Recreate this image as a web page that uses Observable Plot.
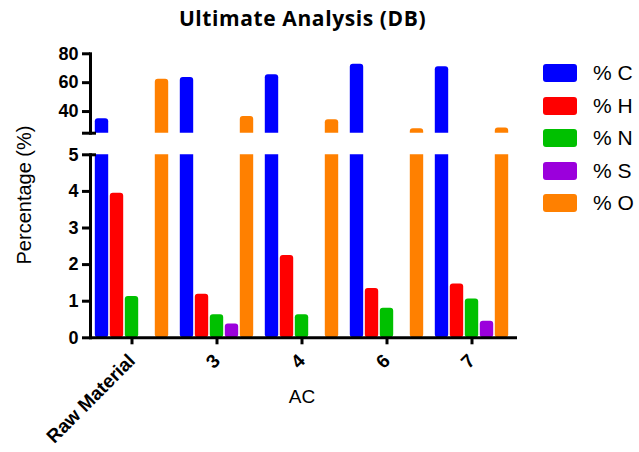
<!DOCTYPE html>
<html>
<head>
<meta charset="utf-8">
<script src="https://cdn.jsdelivr.net/npm/d3@7"></script>
<script src="https://cdn.jsdelivr.net/npm/@observablehq/plot@0.6"></script>
<style>
  body { margin: 0; background: #fff; }
  #chart { position: relative; width: 639px; height: 452px; overflow: hidden; font-family: "Liberation Sans", Arial, sans-serif; color: #000; }
  #chart svg { position: absolute; left: 0; top: 0; background: transparent; overflow: visible; }
  .title { position: absolute; left: 0; width: 605px; top: 4px; text-align: center; font: bold 21px "Open Sans", sans-serif; letter-spacing: 0.6px; }
  .ylabel { position: absolute; left: 24px; top: 195px; transform: translate(-50%, -50%) rotate(-90deg); white-space: nowrap; font-size: 20px; }
  .xlabel { position: absolute; left: 0; width: 604px; top: 386px; text-align: center; font-size: 19px; }
  .legend { position: absolute; left: 543px; top: 0; }
  .legend .item { position: absolute; left: 0; height: 18px; white-space: nowrap; }
  .legend .sw { position: absolute; left: 0; top: 0; width: 34px; height: 18px; border-radius: 3px; }
  .legend .lab { position: absolute; left: 50px; top: -4px; font-size: 21px; line-height: 26px; }
</style>
</head>
<body>
<div id="chart">
  <div class="title">Ultimate Analysis (DB)</div>
  <div class="ylabel">Percentage (%)</div>
  <div class="xlabel">AC</div>
  <div class="legend" id="legend"></div>
</div>
<script>
// Samples along the x axis and the measured elements (dry basis, %)
const samples = ["Raw Material", "3", "4", "6", "7"];
const elements = ["% C", "% H", "% N", "% S", "% O"];
const colors = ["#0000ff", "#ff0000", "#00c000", "#9b00dc", "#ff8000"];

const carbon   = [35.0, 63.5, 65.5, 72.8, 71.0];
const hydrogen = [3.95, 1.19, 2.25, 1.35, 1.47];
const nitrogen = [1.13, 0.63, 0.63, 0.81, 1.06];
const sulfur   = [0.00, 0.38, 0.00, 0.00, 0.45];
const oxygen   = [62.4, 36.6, 34.4, 28.0, 28.6];

const upperTicks = [40, 60, 80];
const lowerTicks = [0, 1, 2, 3, 4, 5];
const upperDomain = [25, 80];
const lowerDomain = [0, 5];

const series = [carbon, hydrogen, nitrogen, sulfur, oxygen];
const rows = samples.flatMap((sample, i) =>
  elements.map((element, j) => ({sample, element, value: series[j][i]}))
);

// Layout of the grouped bars inside each sample band
const W = 639;
const xRange = [89, 514];
const band = (xRange[1] - xRange[0]) / samples.length;
const barStep = 15;
const barWidth = 13.4;
const inset = (band - barWidth) / 2;
const axisStroke = 3;
const font = "'Liberation Sans', Arial, sans-serif";

function bars() {
  return elements.map((element, j) =>
    Plot.barY(rows.filter((d) => d.element === element), {
      x: "sample",
      y: "value",
      fill: colors[j],
      dx: (j - (elements.length - 1) / 2) * barStep,
      insetLeft: inset,
      insetRight: inset,
      r: 3,
      clip: true
    })
  );
}

const tickText = {fontSize: 18, fontWeight: "bold", fontFamily: font};

// Upper segment of the broken y axis (25–80)
const upper = Plot.plot({
  width: W,
  height: 140,
  marginTop: 53.3,
  marginBottom: 7.3,
  marginLeft: 90,
  marginRight: W - 517,
  style: {fontFamily: font, background: "transparent"},
  x: {domain: samples, range: xRange, padding: 0, axis: null},
  y: {domain: upperDomain, axis: null},
  marks: [
    ...bars(),
    Plot.frame({anchor: "left", strokeWidth: axisStroke}),
    Plot.axisY({ticks: upperTicks, tickSize: 8, tickPadding: 4, strokeWidth: axisStroke, tickFormat: "d", label: null, ...tickText}),
    Plot.axisY({ticks: [upperDomain[0]], tickSize: 8, strokeWidth: axisStroke, tickFormat: () => "", label: null}),
    Plot.axisY({ticks: [upperDomain[0]], tickSize: -6, strokeWidth: axisStroke, tickFormat: () => "", label: null})
  ]
});

// Lower segment of the broken y axis (0–5) with the sample axis
const lower = Plot.plot({
  width: W,
  height: 452,
  marginTop: 154.3,
  marginBottom: 452 - 337.3,
  marginLeft: 90,
  marginRight: W - 517,
  style: {fontFamily: font, background: "transparent"},
  x: {domain: samples, range: xRange, padding: 0},
  y: {domain: lowerDomain, axis: null},
  marks: [
    ...bars(),
    Plot.frame({anchor: "left", strokeWidth: axisStroke}),
    Plot.ruleY([0], {strokeWidth: axisStroke}),
    Plot.axisY({ticks: lowerTicks, tickSize: 8, tickPadding: 4, strokeWidth: axisStroke, tickFormat: "d", label: null, ...tickText}),
    Plot.axisY({ticks: [lowerDomain[1]], tickSize: -6, strokeWidth: axisStroke, tickFormat: () => "", label: null}),
    Plot.axisX({
      tickSize: 7,
      tickPadding: 13,
      tickRotate: -45,
      strokeWidth: axisStroke,
      label: null,
      ...tickText,
      fontSize: 19
    })
  ]
});

const chart = document.getElementById("chart");
chart.insertBefore(lower, chart.firstChild);
chart.insertBefore(upper, lower.nextSibling);

// Legend swatches
const legend = document.getElementById("legend");
elements.forEach((element, j) => {
  const item = document.createElement("div");
  item.className = "item";
  item.style.top = (64 + j * 32.5) + "px";
  item.innerHTML = `<div class="sw" style="background:${colors[j]}"></div><div class="lab">${element}</div>`;
  legend.appendChild(item);
});
</script>
</body>
</html>
